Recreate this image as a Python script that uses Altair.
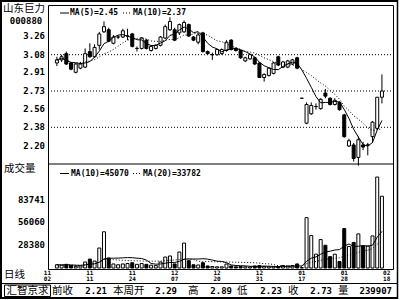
import altair as alt
import pandas as pd

# ---------------- data ----------------
stock_name = "山东巨力"
stock_code = "000880"

opens = [3.00, 3.03, 3.09, 3.00, 2.91, 2.95, 2.96, 3.11, 3.06, 3.17,
         3.30, 3.32, 3.19, 3.25, 3.25, 3.26, 3.28, 3.14, 3.14, 3.22,
         3.12, 3.14, 3.17, 3.24, 3.32, 3.32, 3.29, 3.30, 3.37, 3.25,
         3.20, 3.29, 3.11, 3.08, 3.08, 3.09, 3.12, 3.22, 3.14, 3.12,
         3.02, 3.04, 3.05, 3.00, 2.86, 2.88, 2.90, 3.06, 2.96, 2.96,
         2.99, 3.05, 2.66, 2.42, 2.51, 2.58, 2.56, 2.71, 2.66, 2.60,
         2.62, 2.50, 2.20, 2.21, 2.09, 2.21, 2.21, 2.29, 2.37, 2.67]
closes = [3.03, 3.06, 2.99, 2.94, 2.99, 2.99, 3.09, 3.06, 3.15, 3.28,
          3.35, 3.21, 3.25, 3.25, 3.31, 3.26, 3.16, 3.14, 3.24, 3.14,
          3.16, 3.17, 3.25, 3.35, 3.40, 3.22, 3.37, 3.39, 3.26, 3.22,
          3.27, 3.11, 3.09, 3.08, 3.13, 3.13, 3.20, 3.13, 3.12, 3.05,
          3.05, 3.08, 2.99, 2.86, 2.89, 2.95, 3.00, 2.98, 3.01, 3.02,
          3.03, 2.95, 2.66, 2.60, 2.59, 2.58, 2.65, 2.68, 2.60, 2.64,
          2.55, 2.29, 2.25, 2.08, 2.26, 2.19, 2.21, 2.43, 2.67, 2.73]
highs = [3.06, 3.08, 3.11, 3.01, 3.00, 3.01, 3.14, 3.19, 3.18, 3.30,
         3.40, 3.34, 3.27, 3.27, 3.33, 3.33, 3.29, 3.16, 3.25, 3.23,
         3.17, 3.18, 3.26, 3.37, 3.44, 3.34, 3.38, 3.41, 3.38, 3.26,
         3.29, 3.30, 3.12, 3.10, 3.13, 3.14, 3.22, 3.23, 3.15, 3.13,
         3.06, 3.09, 3.06, 3.01, 2.90, 2.96, 3.01, 3.07, 3.02, 3.03,
         3.04, 3.06, 2.66, 2.62, 2.62, 2.61, 2.66, 2.75, 2.67, 2.66,
         2.63, 2.51, 2.27, 2.23, 2.29, 2.24, 2.23, 2.44, 2.67, 2.89]
lows = [2.97, 3.01, 2.98, 2.93, 2.90, 2.94, 2.95, 3.05, 3.05, 3.13,
        3.29, 3.20, 3.18, 3.23, 3.24, 3.22, 3.15, 3.11, 3.13, 3.13,
        3.11, 3.13, 3.16, 3.23, 3.31, 3.21, 3.27, 3.29, 3.25, 3.21,
        3.18, 3.10, 3.08, 3.03, 3.07, 3.08, 3.11, 3.12, 3.11, 3.04,
        3.01, 3.03, 2.98, 2.86, 2.82, 2.87, 2.89, 2.97, 2.95, 2.95,
        2.98, 2.94, 2.66, 2.41, 2.50, 2.55, 2.55, 2.66, 2.59, 2.59,
        2.54, 2.28, 2.19, 2.05, 2.01, 2.16, 2.11, 2.23, 2.36, 2.61]
volumes = [4000, 3500, 4500, 3000, 2000, 2500, 7400, 11000, 8600, 24600,
           44600, 12300, 5000, 4000, 5000, 5500, 6500, 4500, 5500, 4500,
           3500, 3000, 7400, 13500, 14800, 5000, 19700, 30700, 9000, 4000,
           3700, 6500, 2500, 1800, 1500, 1500, 4900, 2500, 1500, 1800,
           1500, 1200, 2500, 3000, 2000, 1500, 1500, 1800, 3100, 2500,
           3000, 5000, 500, 62000, 40000, 17000, 35000, 28000, 14000, 17000,
           8000, 48500, 26500, 31500, 42000, 27000, 27000, 39500, 112000, 88400]

date_ticks = [-2, 7, 16, 25, 34, 43, 52, 61, 70]
date_months = ["11", "11", "11", "12", "12", "12", "01", "01", "02"]
date_days = ["02", "11", "24", "07", "20", "31", "17", "28", "18"]
price_ticks = [3.26, 3.08, 2.91, 2.73, 2.56, 2.38, 2.20]
price_grid = [3.08, 2.73, 2.38]
vol_ticks = [83741, 56060, 28380]

legend_price = ["MA(5)=2.45", "MA(10)=2.37"]
legend_vol = ["MA(10)=45070", "MA(20)=33782"]

info_names = ["前收", "本周开", "高", "低", "收", "量"]
info_values = ["2.21", "2.29", "2.89", "2.23", "2.73", "239907"]
brand = "汇智京求"

# ---------------- layout / style ----------------
L, T = 48, 5
W, H = 345, 264
MONO = "DejaVu Sans Mono"
CJK = "Noto Sans CJK SC"

X = alt.Scale(domain=[-0.825, 70.29], nice=False, zero=False)
PY = alt.Scale(domain=[2.20, 3.26], range=[141, 31], nice=False, zero=False)
VY = alt.Scale(domain=[0, 83741], range=[263, 195], nice=False, zero=False)

N = len(closes)
df = pd.DataFrame({"i": list(range(N)), "open": opens, "high": highs,
                   "low": lows, "close": closes, "vol": volumes})

base = alt.Chart(df).transform_calculate(up="datum.close >= datum.open")
xe = alt.X("i:Q", scale=X, axis=None)
fill_cond = alt.condition("datum.up", alt.value("white"), alt.value("black"))

grid = alt.Chart(pd.DataFrame({"p": price_grid})).mark_rule(
    color="black", strokeWidth=1, strokeDash=[1, 2]).encode(
    y=alt.Y("p:Q", scale=PY, axis=None), x=alt.value(0), x2=alt.value(W))

wicks = base.mark_rule(color="black", strokeWidth=1).encode(
    x=xe, y=alt.Y("low:Q", scale=PY, axis=None), y2="high:Q")
bodies = base.mark_bar(size=3, stroke="black", strokeWidth=1).encode(
    x=xe, y=alt.Y("open:Q", scale=PY, axis=None), y2="close:Q", fill=fill_cond)

ma = base.transform_window(ma5="mean(close)", frame=[-4, 0], sort=[alt.SortField("i")]) \
         .transform_window(ma10="mean(close)", frame=[-9, 0], sort=[alt.SortField("i")]) \
         .transform_window(vma10="mean(vol)", frame=[-9, 0], sort=[alt.SortField("i")]) \
         .transform_window(vma20="mean(vol)", frame=[-19, 0], sort=[alt.SortField("i")])
ma5 = ma.mark_line(color="black", strokeWidth=1).encode(
    x=xe, y=alt.Y("ma5:Q", scale=PY, axis=None))
ma10 = ma.mark_line(color="black", strokeWidth=1, strokeDash=[1, 2]).encode(
    x=xe, y=alt.Y("ma10:Q", scale=PY, axis=None))

vbars = base.mark_bar(size=3, stroke="black", strokeWidth=1).encode(
    x=xe, y=alt.Y("vol:Q", scale=VY, axis=None), fill=fill_cond)
vma10 = ma.mark_line(color="black", strokeWidth=1).encode(
    x=xe, y=alt.Y("vma10:Q", scale=VY, axis=None))
vma20 = ma.mark_line(color="black", strokeWidth=1, strokeDash=[1, 2]).encode(
    x=xe, y=alt.Y("vma20:Q", scale=VY, axis=None))

plabels = alt.Chart(pd.DataFrame({"p": price_ticks})).mark_text(
    align="right", baseline="middle", font=MONO, fontSize=9, fontWeight="bold").encode(
    y=alt.Y("p:Q", scale=PY, axis=None), x=alt.value(-3),
    text=alt.Text("p:Q", format=".2f"))
vlabels = alt.Chart(pd.DataFrame({"v": vol_ticks})).mark_text(
    align="right", baseline="middle", font=MONO, fontSize=9, fontWeight="bold").encode(
    y=alt.Y("v:Q", scale=VY, axis=None), x=alt.value(-3),
    text=alt.Text("v:Q", format="d"))

date_df = pd.DataFrame({"t": date_ticks, "m": date_months, "d": date_days})
mlabels = alt.Chart(date_df).mark_text(
    align="center", baseline="middle", font=MONO, fontSize=6, fontWeight="bold").encode(
    x=alt.X("t:Q", scale=X, axis=None), y=alt.value(272.7 - T), text="m:N")
dlabels = alt.Chart(date_df).mark_text(
    align="center", baseline="middle", font=MONO, fontSize=6, fontWeight="bold").encode(
    x=alt.X("t:Q", scale=X, axis=None), y=alt.value(279 - T), text="d:N")

dummy = pd.DataFrame({"d": [0]})


def hline(y, x1, x2, w=1.0, dash=None):
    kw = {"strokeDash": dash} if dash else {}
    return alt.Chart(dummy).mark_rule(color="black", strokeWidth=w, **kw).encode(
        x=alt.value(x1 - L), x2=alt.value(x2 - L), y=alt.value(y - T))


def vline(x, y1, y2, w=1.0):
    return alt.Chart(dummy).mark_rule(color="black", strokeWidth=w).encode(
        x=alt.value(x - L), y=alt.value(y1 - T), y2=alt.value(y2 - T))


def label(txt, x, y, size, font, align="left", weight="normal"):
    return alt.Chart(dummy).mark_text(
        text=txt, align=align, baseline="middle", fontSize=size, font=font,
        fontWeight=weight).encode(x=alt.value(x - L), y=alt.value(y - T))


deco = [
    # panel separator
    hline(164, 48, 393),
    # outer frame
    hline(1, 0, 398, 2), vline(1, 0, 299, 2), vline(397.5, 0, 299, 1.5),
    hline(298, 0, 398, 2),
    # info bar
    hline(283.5, 0, 398, 1),
    hline(285, 4.5, 50.5, 1), hline(296.5, 4.5, 50.5, 1),
    vline(4.5, 285, 296.5, 1), vline(50.5, 285, 296.5, 1),
    # legends
    hline(13, 60, 69), label(legend_price[0], 70, 13, 8, MONO, weight="bold"),
    hline(13, 123, 132, 1, [1, 2]), label(legend_price[1], 133, 13, 8, MONO, weight="bold"),
    hline(173.5, 60, 69), label(legend_vol[0], 71, 173.5, 8, MONO, weight="bold"),
    hline(173.5, 133, 142, 1, [1, 2]), label(legend_vol[1], 143, 173.5, 8, MONO, weight="bold"),
    # left column
    label(stock_name, 3, 8.5, 10.5, CJK),
    label(stock_code, 26, 21, 9, MONO, align="center", weight="bold"),
    label("成交量", 4, 168.5, 10.5, CJK),
    label("日线", 4, 275, 10.5, CJK),
    label(brand, 27.5, 290.5, 10.5, CJK, align="center"),
]

info_name_x = [52, 113, 188, 237, 288, 338]
info_val_x = [107, 177, 232, 282, 332, 392]
for nm, nx in zip(info_names, info_name_x):
    deco.append(label(nm, nx, 290.5, 10.5, CJK))
for vv, vx in zip(info_values, info_val_x):
    deco.append(label(vv, vx, 290.5, 9, MONO, align="right", weight="bold"))

chart = alt.layer(grid, wicks, bodies, ma5, ma10, vbars, vma10, vma20,
                  plabels, vlabels, mlabels, dlabels, *deco).resolve_scale(
    y="independent").properties(
    width=W, height=H,
    autosize=alt.AutoSizeParams(type="none"),
    padding={"left": L, "top": T, "right": 400 - L - W, "bottom": 300 - T - H},
).configure_view(stroke="black", strokeWidth=1)

chart.save("out.html", embed_options={"renderer": "svg", "actions": False})
